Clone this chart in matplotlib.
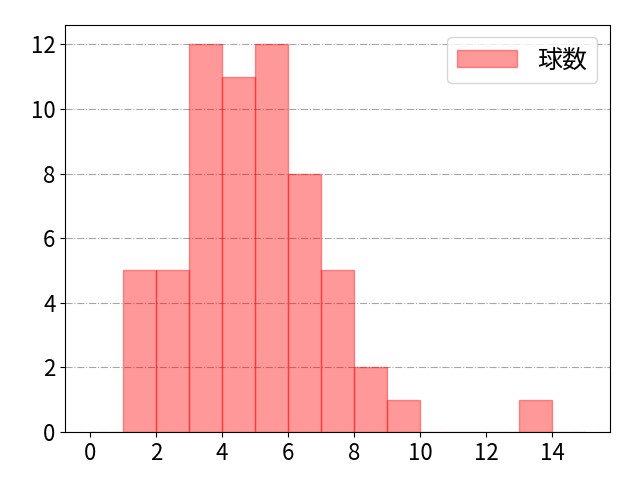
import matplotlib
matplotlib.use('Agg')
import matplotlib.pyplot as plt

plt.rcParams['font.family'] = ['Noto Sans CJK JP', 'DejaVu Sans']
plt.rcParams['font.size'] = 16

# ビンの左端と度数
bin_edges = [0, 1, 2, 3, 4, 5, 6, 7, 8, 9, 10, 11, 12, 13, 14, 15]
counts = [0, 5, 5, 12, 11, 12, 8, 5, 2, 1, 0, 0, 0, 1, 0]

fig, ax = plt.subplots(figsize=(6.4, 4.8), dpi=100)
ax.hist(bin_edges[:-1], bins=bin_edges, weights=counts,
        color='red', alpha=0.4, edgecolor='red', label='球数')
ax.grid(axis='y', linestyle='-.', color='gray', alpha=0.7)
ax.set_axisbelow(True)
ax.set_xticks([0, 2, 4, 6, 8, 10, 12, 14])
ax.legend(loc='upper right', fontsize=18, handlelength=2.4)
fig.subplots_adjust(left=0.102, right=0.953, top=0.948, bottom=0.1)
plt.savefig('out.png')
plt.close()
